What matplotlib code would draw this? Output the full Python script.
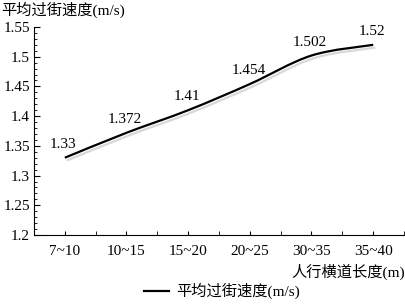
import matplotlib
matplotlib.use("Agg")
import matplotlib.pyplot as plt
import numpy as np
from matplotlib.path import Path
from matplotlib.patches import PathPatch
import matplotlib.patheffects as pe
from matplotlib.ticker import MultipleLocator

categories = ["7~10", "10~15", "15~20", "20~25", "30~35", "35~40"]
speeds = [1.33, 1.372, 1.41, 1.454, 1.502, 1.52]
y_label = "平均过街速度(m/s)"
x_label = "人行横道长度(m)"
series_name = "平均过街速度(m/s)"

FAM = ["Liberation Serif", "Noto Sans CJK SC"]
plt.rcParams["font.family"] = FAM

fig = plt.figure(figsize=(4.06, 3.04), dpi=100)
ax = fig.add_axes([34/406, 1-235/304, 370/406, 208/304])

x = np.arange(1, len(categories) + 1, dtype=float)
y = np.array(speeds)

# smooth curve through data points (Catmull-Rom as cubic Bezier segments)
verts = [(x[0], y[0])]
codes = [Path.MOVETO]
n = len(x)
for i in range(n - 1):
    p0 = (x[i-1], y[i-1]) if i > 0 else (x[i], y[i])
    p1 = (x[i], y[i])
    p2 = (x[i+1], y[i+1])
    p3 = (x[i+2], y[i+2]) if i + 2 < n else (x[i+1], y[i+1])
    t = 0.5 / 3
    c1 = (p1[0] + (p2[0]-p0[0]) * t, p1[1] + (p2[1]-p0[1]) * t)
    c2 = (p2[0] - (p3[0]-p1[0]) * t, p2[1] - (p3[1]-p1[1]) * t)
    verts += [c1, c2, p2]
    codes += [Path.CURVE4] * 3
patch = PathPatch(Path(verts, codes), facecolor="none", edgecolor="black", lw=1.6,
                  path_effects=[pe.SimpleLineShadow(offset=(1.5, -2), shadow_color="gray", alpha=0.3),
                                pe.Normal()])
ax.add_patch(patch)
ax.plot([], [], color="black", lw=1.6, label=series_name)

for xi, yi in zip(x, y):
    ax.annotate(f"{yi:g}", (xi, yi), xytext=(-1, 5), textcoords="offset points",
                ha="center", va="bottom", fontsize=11)

ax.set_xlim(0.5, 6.5)
ax.set_ylim(1.2, 1.55)
ax.set_xticks(x)
ax.set_xticklabels(categories)
ax.set_xticks(np.arange(0.5, 6.6, 1.0), minor=True)
ax.yaxis.set_major_locator(MultipleLocator(0.05))
ax.yaxis.set_minor_locator(MultipleLocator(0.01))
ax.set_yticklabels([f"{v:g}" for v in ax.get_yticks()])
ax.tick_params(axis="both", which="both", direction="in", labelsize=11)
ax.tick_params(axis="x", which="both", length=3, pad=7)
ax.tick_params(axis="y", which="major", length=4, pad=3)
ax.tick_params(axis="y", which="minor", length=2)
for s in ["top", "right"]:
    ax.spines[s].set_visible(False)

fig.text(1/406, 1-10/304, y_label, ha="left", va="center", fontsize=11)
fig.text(405/406, 1-272/304, x_label, ha="right", va="center", fontsize=11)

fig.legend(loc="center", bbox_to_anchor=(222/406, 1-291/304), frameon=False,
           fontsize=11, handlelength=1.6, handletextpad=0.5,
           borderpad=0, borderaxespad=0)

fig.savefig("out.png", dpi=100)
